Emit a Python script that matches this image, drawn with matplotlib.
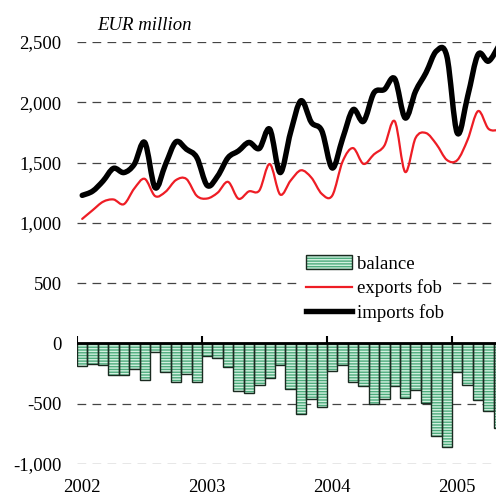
import matplotlib
matplotlib.use("Agg")
import matplotlib.pyplot as plt
import numpy as np
from matplotlib.path import Path
from matplotlib.patches import PathPatch, Patch
from matplotlib.lines import Line2D
from matplotlib.legend_handler import HandlerTuple

# monthly data, Jan 2002 .. May 2005 (EUR million)
years = [2002, 2003, 2004, 2005]

imports_fob = [1228, 1263, 1347, 1452, 1417, 1486, 1667, 1292, 1486, 1672, 1611, 1542,
               1310, 1388, 1541, 1597, 1667, 1617, 1777, 1417, 1750, 2013, 1833, 1763,
               1455, 1700, 1939, 1842, 2078, 2106, 2195, 1870, 2092, 2245, 2425, 2383,
               1745, 2050, 2397, 2341, 2470]

exports_fob = [1033, 1105, 1175, 1194, 1155, 1285, 1365, 1222, 1258, 1355, 1364, 1224,
               1202, 1250, 1340, 1200, 1261, 1268, 1488, 1235, 1350, 1436, 1375, 1240,
               1226, 1510, 1620, 1489, 1568, 1640, 1843, 1422, 1704, 1745, 1652, 1522,
               1520, 1690, 1927, 1780, 1770]

balance = [-189, -167, -175, -261, -261, -208, -300, -67, -233, -317, -250, -317,
           -103, -119, -192, -394, -408, -342, -286, -183, -375, -586, -458, -528,
           -231, -178, -317, -353, -506, -458, -350, -450, -386, -492, -767, -858,
           -233, -342, -467, -564, -703]

plt.rcParams["font.family"] = ["Liberation Serif", "DejaVu Serif"]
plt.rcParams["hatch.linewidth"] = 1.0

FS = 13.5
GREEN = "#4cab7c"
STRIPE = "#d2f0df"
RED = "#ee1d25"


def smooth_path(xs, ys):
    # Catmull-Rom curve through the points, drawn as cubic Bezier segments
    pts = np.column_stack([xs, ys]).astype(float)
    n = len(pts)
    verts = [pts[0]]
    codes = [Path.MOVETO]
    for i in range(n - 1):
        p0 = pts[max(i - 1, 0)]
        p1 = pts[i]
        p2 = pts[i + 1]
        p3 = pts[min(i + 2, n - 1)]
        verts += [p1 + (p2 - p0) / 6, p2 - (p3 - p1) / 6, p2]
        codes += [Path.CURVE4] * 3
    return Path(verts, codes)


fig = plt.figure(figsize=(4.96, 4.95), dpi=100)
ax = fig.add_axes([77 / 496, 31 / 495, 419 / 496, 422 / 495])

n = len(balance)
x = np.arange(n) + 0.5

# grid
for v in [2500, 2000, 1500, 1000, 500, -500, -1000]:
    ax.axhline(v, color="#444444", lw=0.9, ls=(0, (7, 5)), zorder=0)

# balance bars: striped fill then black outline
ax.bar(x, balance, width=1.0, color=GREEN, edgecolor=STRIPE, hatch="------",
       linewidth=0, zorder=2)
ax.bar(x, balance, width=1.0, fill=False, edgecolor="#1a2a20", linewidth=1.0, zorder=3)

# zero line and year marks
ax.axhline(0, color="black", lw=2.0, zorder=4)
year_pos = [12 * (y - years[0]) for y in years]
ax.vlines(year_pos, 0, 60, color="black", lw=1.5, zorder=4)

# smoothed lines
ax.add_patch(PathPatch(smooth_path(x, exports_fob), fill=False, edgecolor=RED,
                       lw=1.6, zorder=5, capstyle="round", joinstyle="round"))
ax.add_patch(PathPatch(smooth_path(x, imports_fob), fill=False, edgecolor="black",
                       lw=3.9, zorder=6, capstyle="round", joinstyle="round"))

ax.set_xlim(0, 40.22)
ax.set_ylim(-1000, 2500)
ax.set_yticks([-1000, -500, 0, 500, 1000, 1500, 2000, 2500])
ax.set_yticklabels([f"{v:,}" for v in ax.get_yticks().astype(int)])
ax.set_xticks([p + 0.5 for p in year_pos])
ax.set_xticklabels([str(y) for y in years])
ax.tick_params(axis="y", length=0, pad=11, labelsize=FS)
ax.tick_params(axis="x", length=0, pad=11, labelsize=FS)
for s in ax.spines.values():
    s.set_visible(False)

ax.text(0.048, 1.04, "EUR million", transform=ax.transAxes, fontsize=FS,
        style="italic", va="center", ha="left")

h_fill = Patch(facecolor=GREEN, edgecolor=STRIPE, hatch="------", linewidth=0)
h_edge = Patch(fill=False, edgecolor="#1a2a20", linewidth=1.0)
h_exp = Line2D([], [], color=RED, lw=1.6)
h_imp = Line2D([], [], color="black", lw=3.9)
leg = ax.legend([(h_fill, h_edge), h_exp, h_imp], ["balance", "exports fob", "imports fob"],
                handler_map={tuple: HandlerTuple(ndivide=1)},
                loc="upper left", bbox_to_anchor=(0.525, 0.517), frameon=True,
                fontsize=FS, handlelength=2.45, handletextpad=0.25, labelspacing=0.36,
                borderpad=0.5, borderaxespad=0, handleheight=0.75, fancybox=False)
leg.get_frame().set_facecolor("white")
leg.get_frame().set_edgecolor("none")
leg.get_frame().set_alpha(1.0)
leg.set_zorder(3.5)

fig.savefig("out.png", dpi=100)
